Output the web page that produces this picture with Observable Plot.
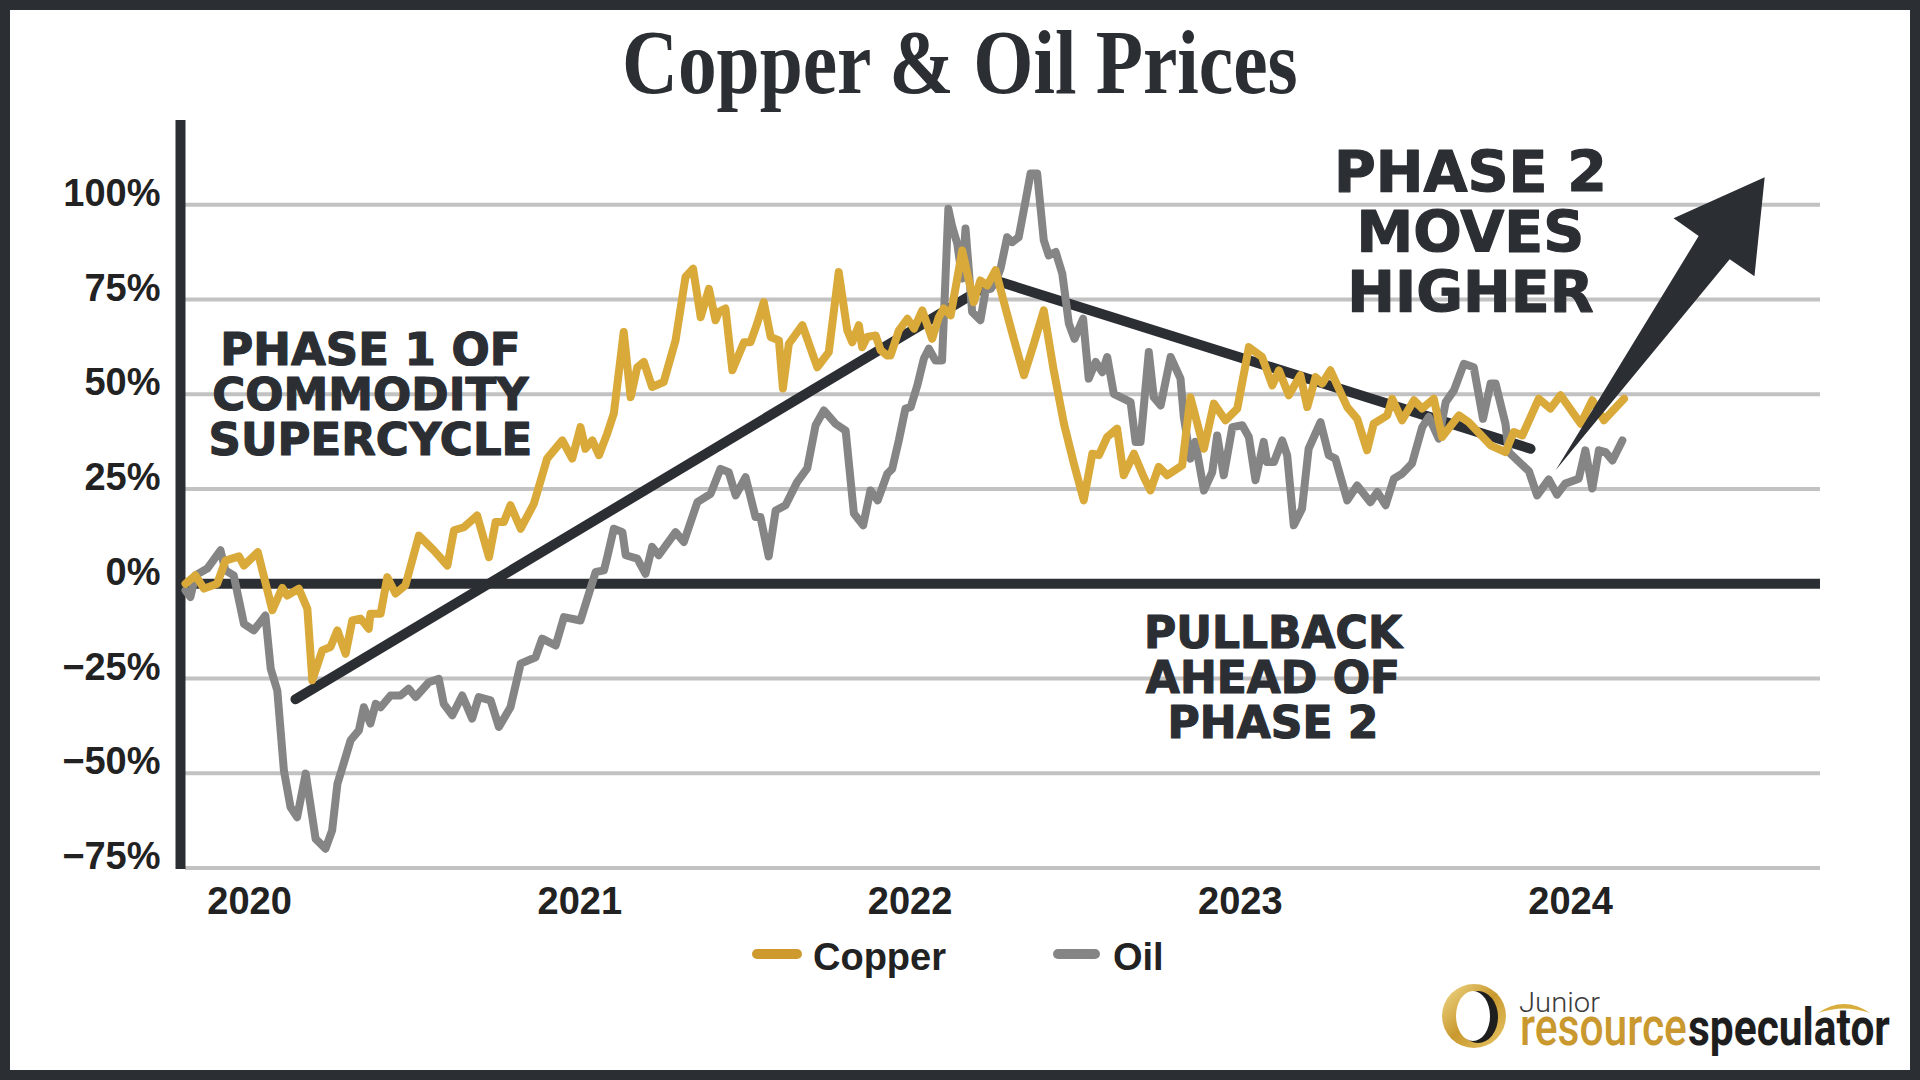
<!DOCTYPE html>
<html><head><meta charset="utf-8">
<script src="https://cdn.jsdelivr.net/npm/d3@7"></script>
<script src="https://cdn.jsdelivr.net/npm/@observablehq/plot@0.6"></script>
<style>
html,body{margin:0;padding:0;background:#2b2e33;}
body{width:1920px;height:1080px;position:relative;overflow:hidden;}
#frame{position:absolute;left:10px;top:10px;width:1900px;height:1060px;background:#fff;}
#title{position:absolute;left:0;top:8px;width:1900px;text-align:center;font-family:"Liberation Serif",serif;font-weight:bold;font-size:90px;line-height:90px;color:#2b2e33;white-space:nowrap;}
#title span{display:inline-block;transform:scaleX(0.86);}
#chart{position:absolute;left:0;top:90px;}
.lg-sw{position:absolute;height:10px;border-radius:5px;}
.lg-tx{position:absolute;font-family:"Liberation Sans",Arial,sans-serif;font-weight:bold;font-size:38px;line-height:44px;color:#222;white-space:nowrap;}
#logo{position:absolute;left:1420px;top:965px;}
</style></head>
<body><div id="frame">
<div id="title"><span>Copper &amp; Oil Prices</span></div>
<div id="chart"></div>
<div id="legend"></div>
<svg id="logo" width="480" height="95" viewBox="0 0 480 95">
  <defs>
    <linearGradient id="gold" x1="0" y1="0" x2="1" y2="1">
      <stop offset="0" stop-color="#f0d98a"/><stop offset="0.5" stop-color="#c9992f"/><stop offset="1" stop-color="#e9c767"/>
    </linearGradient>
  </defs>
  <ellipse cx="44" cy="41" rx="32" ry="32" fill="url(#gold)"/>
  <ellipse cx="48" cy="42" rx="20" ry="26" fill="#1e1e1e"/>
  <ellipse cx="43" cy="41" rx="17" ry="25" fill="#fff"/>
  <text class="fit" data-x="89" data-y="37" data-w="81" font-family="Roboto" font-weight="300" font-size="28" fill="#3a3a3a">Junior</text>
  <text class="fit" data-x="90" data-y="70" data-w="167" font-family="Roboto" font-weight="500" font-size="52" fill="#c9982f">resource</text>
  <text class="fit" data-x="258" data-y="70" data-w="202" font-family="Roboto" font-weight="700" font-size="52" fill="#1e1e1e">speculator</text>
  <path d="M388,38 Q414,20 440,38 Q414,29 388,38 Z" fill="#d9ad3c"/>
</svg>
</div>
<script>
// ---- data (decimal year, % change) ----
const copperYear = [2019.806,2019.836,2019.862,2019.902,2019.927,2019.968,2019.983,2020.025,2020.069,2020.099,2020.114,2020.149,2020.175,2020.190,2020.220,2020.245,2020.266,2020.291,2020.311,2020.336,2020.361,2020.366,2020.397,2020.417,2020.442,2020.472,2020.513,2020.558,2020.599,2020.619,2020.649,2020.689,2020.725,2020.745,2020.770,2020.790,2020.821,2020.861,2020.901,2020.947,2020.977,2021.002,2021.017,2021.038,2021.058,2021.083,2021.103,2021.133,2021.154,2021.174,2021.194,2021.219,2021.254,2021.290,2021.320,2021.343,2021.366,2021.391,2021.411,2021.421,2021.441,2021.462,2021.497,2021.517,2021.537,2021.557,2021.578,2021.603,2021.615,2021.633,2021.674,2021.719,2021.754,2021.784,2021.810,2021.825,2021.845,2021.855,2021.870,2021.896,2021.911,2021.931,2021.941,2021.966,2021.992,2022.012,2022.037,2022.067,2022.087,2022.102,2022.123,2022.158,2022.193,2022.213,2022.234,2022.259,2022.284,2022.314,2022.345,2022.375,2022.405,2022.435,2022.466,2022.496,2022.526,2022.552,2022.572,2022.597,2022.627,2022.647,2022.678,2022.708,2022.728,2022.753,2022.779,2022.824,2022.849,2022.890,2022.920,2022.955,2022.991,2023.026,2023.066,2023.097,2023.117,2023.147,2023.182,2023.203,2023.228,2023.248,2023.273,2023.324,2023.354,2023.384,2023.404,2023.445,2023.460,2023.490,2023.526,2023.551,2023.586,2023.611,2023.662,2023.692,2023.758,2023.803,2023.828,2023.854,2023.904,2023.939,2023.970,2024.031,2024.066,2024.101,2024.162];
const copperPct = [0,2.2,-1.3,0,6.1,7.2,4.8,8.3,-7.0,-1.1,-3.1,-1.3,-6.6,-25.5,-17.6,-16.7,-12.3,-18.5,-9.7,-9.2,-11.9,-7.9,-7.9,1.7,-2.6,-0.4,12.7,8.8,4.8,14.1,14.9,18.0,7.0,16.3,16.3,20.7,14.5,21.1,33.0,37.8,33.0,41.3,35.6,37.8,33.9,39.6,44.9,66.4,49.2,57.1,58.5,51.9,53.2,64.2,80.9,83.1,70.3,77.8,69.5,71.7,72.6,56.3,63.7,63.7,68.6,74.3,65.1,64.2,51.5,63.3,68.2,57.1,61.1,82.2,66.8,63.7,68.2,62.4,65.1,65.5,61.6,60.2,60.2,66.8,69.9,67.3,72.1,64.6,70.3,72.6,70.8,87.9,74.3,80.0,78.7,82.7,74.3,64.6,55.0,63.3,72.1,56.3,42.2,31.7,22.0,34.3,33.9,38.7,40.9,28.6,34.3,28.1,24.6,30.8,28.6,31.2,49.2,35.6,47.5,43.1,46.2,62.4,59.8,52.3,56.3,49.7,55.0,46.6,54.5,52.8,56.3,46.6,43.5,35.2,42.2,44.4,48.8,43.1,48.4,46.2,48.8,38.7,44.4,42.6,36.5,34.7,40.0,39.1,48.8,46.2,49.7,42.2,48.4,43.1,48.8];

const oilYear = [2019.806,2019.821,2019.836,2019.872,2019.912,2019.927,2019.952,2019.983,2020.013,2020.048,2020.064,2020.084,2020.104,2020.124,2020.144,2020.170,2020.200,2020.230,2020.250,2020.266,2020.286,2020.306,2020.331,2020.346,2020.366,2020.382,2020.397,2020.427,2020.457,2020.482,2020.503,2020.543,2020.573,2020.588,2020.614,2020.644,2020.674,2020.694,2020.730,2020.755,2020.790,2020.821,2020.866,2020.886,2020.927,2020.952,2021.002,2021.048,2021.073,2021.083,2021.103,2021.129,2021.139,2021.174,2021.199,2021.219,2021.239,2021.290,2021.315,2021.356,2021.396,2021.426,2021.451,2021.472,2021.502,2021.532,2021.547,2021.572,2021.593,2021.623,2021.658,2021.689,2021.714,2021.739,2021.774,2021.805,2021.830,2021.858,2021.880,2021.902,2021.931,2021.946,2021.966,2021.986,2022.002,2022.022,2022.042,2022.057,2022.077,2022.097,2022.116,2022.128,2022.143,2022.158,2022.168,2022.188,2022.213,2022.229,2022.244,2022.259,2022.274,2022.294,2022.309,2022.329,2022.350,2022.365,2022.385,2022.405,2022.420,2022.441,2022.461,2022.481,2022.498,2022.524,2022.541,2022.562,2022.582,2022.597,2022.617,2022.668,2022.683,2022.698,2022.723,2022.738,2022.759,2022.789,2022.819,2022.829,2022.849,2022.864,2022.890,2022.915,2022.930,2022.950,2022.976,2023.006,2023.026,2023.046,2023.071,2023.081,2023.102,2023.127,2023.142,2023.162,2023.187,2023.207,2023.243,2023.268,2023.288,2023.324,2023.354,2023.394,2023.415,2023.440,2023.465,2023.490,2023.520,2023.551,2023.571,2023.601,2023.622,2023.647,2023.677,2023.707,2023.735,2023.758,2023.773,2023.803,2023.813,2023.874,2023.899,2023.934,2023.959,2023.984,2024.025,2024.045,2024.066,2024.086,2024.106,2024.127,2024.157];
const oilPct = [-1.8,-3.5,2.2,4.0,8.8,3.5,2.2,-10.6,-12.3,-8.4,-22.4,-28.2,-49.3,-58.9,-61.6,-50.1,-67.3,-69.9,-65.1,-52.8,-47.1,-41.3,-38.7,-32.6,-36.9,-31.7,-32.6,-29.5,-29.5,-27.7,-29.9,-26.0,-25.1,-31.7,-34.7,-29.5,-35.6,-29.9,-30.8,-37.8,-32.6,-21.1,-19.4,-14.5,-16.3,-8.8,-9.7,3.1,3.5,7.0,14.5,13.6,7.5,6.6,2.6,9.7,7.5,13.6,11.0,21.5,23.7,30.3,29.4,23.3,28.1,17.6,17.6,7.2,19.3,20.7,26.8,30.5,41.8,45.7,42.2,40.4,18.5,15.4,24.6,22.0,29.0,30.3,37.8,46.2,46.6,52.3,59.4,62.0,58.9,58.9,98.9,94.1,89.7,80.5,93.7,71.7,69.5,77.4,77.8,79.6,83.1,91.4,90.1,91.4,101.1,108.2,108.2,90.6,86.6,87.5,81.8,68.6,64.6,69.9,54.1,58.5,55.8,59.8,50.1,47.9,37.4,37.4,61.1,49.2,47.0,59.8,54.1,44.0,33.0,37.4,24.6,29.4,39.1,28.6,41.3,41.8,38.7,27.3,37.4,32.1,32.1,37.8,33.9,15.4,19.8,35.6,42.6,33.9,33.0,22.0,25.9,21.5,24.2,20.7,27.7,29.0,31.7,41.3,44.0,38.3,47.9,51.0,58.0,57.1,43.5,52.8,52.8,42.2,34.7,29.7,23.3,27.5,23.5,26.4,27.7,35.2,25.1,35.2,34.7,32.5,37.8];

const seriesNames = ["Copper", "Oil"];
const seriesColors = ["#d9a93a", "#858585"];
const legendColors = ["#cf9a2d", "#858585"];

const yearTicks = [2020, 2021, 2022, 2023, 2024];
const pctTicks = [-75, -50, -25, 0, 25, 50, 75, 100];

// trend lines (phase 1 rise, pullback)
const trendYear = [2020.139, 2022.259, 2023.879];
const trendPct = [-30.5, 80.0, 35.6];

// "moves higher" arrow outline
const arrowYear = [2023.955, 2024.388, 2024.312, 2024.588, 2024.557, 2024.482, 2023.955];
const arrowPct = [29.9, 91.7, 96.4, 107.2, 81.1, 85.6, 29.9];

// annotations
const noteText = ["PHASE 1 OF\nCOMMODITY\nSUPERCYCLE", "PHASE 2\nMOVES\nHIGHER", "PULLBACK\nAHEAD OF\nPHASE 2"];
const noteYear = [2020.366, 2023.697, 2023.099];
const notePct = [49.6, 92.6, -25.0];
const noteSize = [45, 57, 44];
const noteLeading = [1.0, 1.05, 1.02];

// ---- build ----
const dark = "#2b2e33";
const copper = copperYear.map((x, i) => ({x, y: copperPct[i]}));
const oil = oilYear.map((x, i) => ({x, y: oilPct[i]}));
const trend = trendYear.map((x, i) => ({x, y: trendPct[i]}));
const arrow = arrowYear.map((x, i) => ({x, y: arrowPct[i]}));
const fmtPct = d => (d < 0 ? "\u2212" : "") + Math.abs(d) + "%";

const noteMarks = noteText.map((t, i) => Plot.text([{x: noteYear[i], y: notePct[i], t}], {
  x: "x", y: "y", text: "t", fontSize: noteSize[i], lineHeight: noteLeading[i],
  fontFamily: "DejaVu Sans, Liberation Sans, sans-serif", fontWeight: "bold",
  fill: dark, stroke: dark, strokeWidth: 1.2, textAnchor: "middle"
}));

const chart = Plot.plot({
  width: 1900, height: 820,
  marginLeft: 175, marginRight: 90, marginTop: 20, marginBottom: 51,
  x: {type: "linear", domain: [2019.806, 2024.757]},
  y: {domain: [-75.4, 122.2]},
  style: {background: "transparent", fontFamily: "Liberation Sans, Arial, sans-serif", overflow: "visible"},
  marks: [
    Plot.ruleY(pctTicks.filter(d => d !== 0), {stroke: "#c2c2c2", strokeWidth: 4}),
    Plot.ruleY([0], {stroke: dark, strokeWidth: 10}),
    Plot.ruleX([2019.806], {stroke: dark, strokeWidth: 10, dx: -5}),
    Plot.axisY({ticks: pctTicks, tickSize: 0, tickPadding: 25, dy: -11, fontSize: 38, fontWeight: "bold", fill: "#222", tickFormat: fmtPct, label: null}),
    Plot.axisX({ticks: yearTicks, tickSize: 0, tickPadding: 18, fontSize: 38, fontWeight: "bold", fill: "#222", tickFormat: d => String(d), label: null}),
    Plot.line(trend, {x: "x", y: "y", stroke: dark, strokeWidth: 10, strokeLinecap: "round", strokeLinejoin: "round"}),
    Plot.line(oil, {x: "x", y: "y", stroke: seriesColors[1], strokeWidth: 8}),
    Plot.line(copper, {x: "x", y: "y", stroke: seriesColors[0], strokeWidth: 8}),
    Plot.line(arrow, {x: "x", y: "y", fill: dark, stroke: "none", curve: "linear-closed"}),
    ...noteMarks
  ]
});
document.getElementById("chart").appendChild(chart);

// legend
const lg = document.getElementById("legend");
const swLeft = [742, 1043], swWidth = [50, 47], txLeft = [803, 1103];
seriesNames.forEach((name, i) => {
  const sw = document.createElement("div");
  sw.className = "lg-sw";
  sw.style.left = swLeft[i] + "px"; sw.style.top = "939px"; sw.style.width = swWidth[i] + "px";
  sw.style.background = legendColors[i];
  lg.appendChild(sw);
  const tx = document.createElement("div");
  tx.className = "lg-tx";
  tx.style.left = txLeft[i] + "px"; tx.style.top = "925px";
  tx.textContent = name;
  lg.appendChild(tx);
});

// logo word fitting (horizontal squeeze via transform)
document.querySelectorAll("#logo text.fit").forEach(t => {
  const w = t.getComputedTextLength() || 1;
  const sx = (+t.dataset.w) / w;
  t.setAttribute("transform", `translate(${t.dataset.x},${t.dataset.y}) scale(${sx},1)`);
});
</script>
</body></html>
